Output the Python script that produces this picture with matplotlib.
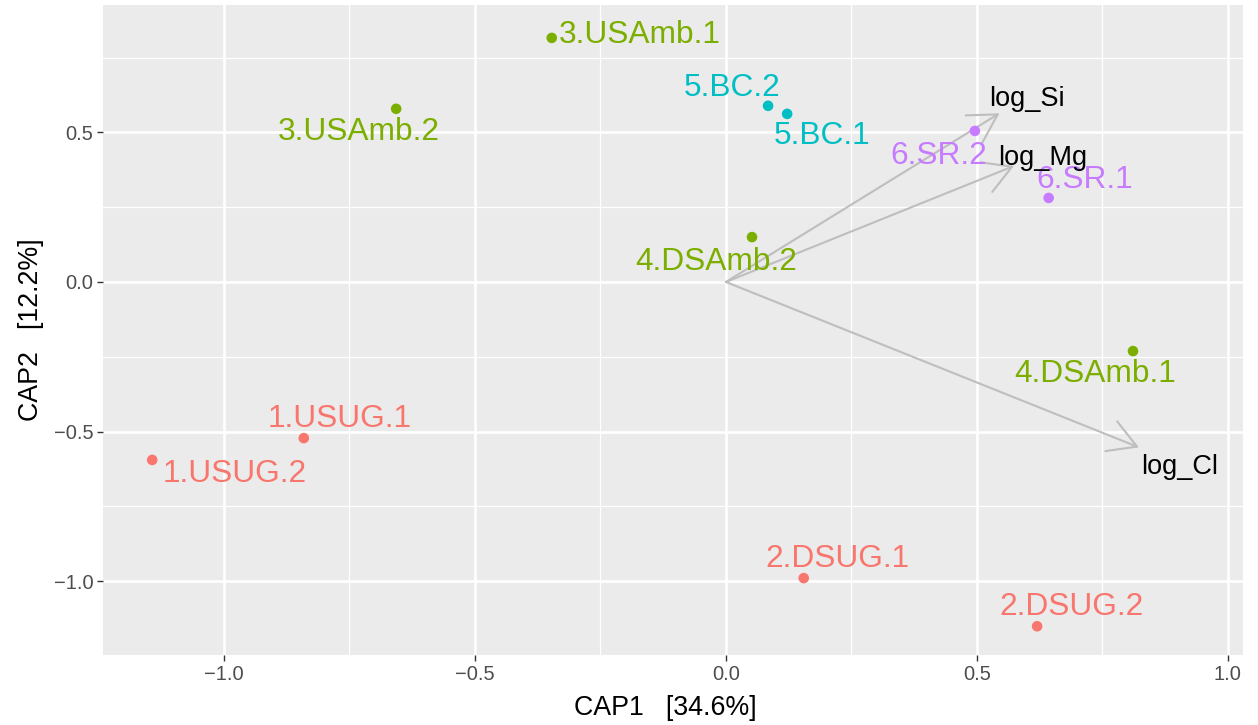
import numpy as np
import matplotlib
matplotlib.use("Agg")
import matplotlib.pyplot as plt
from matplotlib.patches import FancyArrowPatch

plt.rcParams['font.family'] = ['Liberation Sans', 'DejaVu Sans']

# CAP ordination scores per sample
samples = ['3.USAmb.1', '3.USAmb.2', '5.BC.2', '5.BC.1', '6.SR.2', '6.SR.1',
           '4.DSAmb.2', '4.DSAmb.1', '1.USUG.1', '1.USUG.2', '2.DSUG.1', '2.DSUG.2']
cap1 = [-0.347, -0.657, 0.084, 0.122, 0.496, 0.643,
        0.052, 0.811, -0.841, -1.143, 0.155, 0.620]
cap2 = [0.816, 0.579, 0.589, 0.562, 0.505, 0.281,
        0.150, -0.231, -0.522, -0.595, -0.990, -1.151]
groups = ['Amb', 'Amb', 'BC', 'BC', 'SR', 'SR',
          'Amb', 'Amb', 'UG', 'UG', 'UG', 'UG']

# repelled label anchors (text centres)
label_x = [-0.171, -0.731, 0.012, 0.191, 0.424, 0.715,
           -0.020, 0.735, -0.769, -0.978, 0.223, 0.689]
label_y = [0.826, 0.500, 0.648, 0.488, 0.420, 0.340,
           0.066, -0.308, -0.459, -0.643, -0.927, -1.088]

# environmental vectors
vectors = ['log_Si', 'log_Mg', 'log_Cl']
vec_x = [0.545, 0.574, 0.823]
vec_y = [0.564, 0.388, -0.553]
vec_label_x = [0.524, 0.542, 0.827]
vec_label_y = [0.612, 0.415, -0.620]

palette = {'UG': '#F8766D', 'Amb': '#7CAE00', 'BC': '#00BFC4', 'SR': '#C77CFF'}

fig = plt.figure(figsize=(12.58, 7.25), dpi=100)
ax = fig.add_axes([0.0819, 0.0966, 0.988 - 0.0819, 0.9931 - 0.0966])
ax.set_facecolor('#EBEBEB')

ax.set_xlim(-1.241, 1.030)
ax.set_ylim(-1.247, 0.926)
ax.set_xticks([-1.0, -0.5, 0.0, 0.5, 1.0])
ax.set_yticks([-1.0, -0.5, 0.0, 0.5])
ax.set_xticks([-0.75, -0.25, 0.25, 0.75], minor=True)
ax.set_yticks([-0.75, -0.25, 0.25, 0.75], minor=True)
ax.grid(which='major', color='white', lw=1.9)
ax.grid(which='minor', color='white', lw=0.9)
ax.set_axisbelow(True)
for s in ax.spines.values():
    s.set_visible(False)
ax.tick_params(which='major', length=4, width=1.0, color='#333333',
               labelcolor='#4D4D4D', labelsize=14.5, pad=3)
ax.tick_params(which='minor', length=0)
ax.set_xticklabels(['\u22121.0', '\u22120.5', '0.0', '0.5', '1.0'])
ax.set_yticklabels(['\u22121.0', '\u22120.5', '0.0', '0.5'])
ax.set_xlabel('CAP1   [34.6%]', fontsize=19.3)
ax.set_ylabel('CAP2   [12.2%]', fontsize=19.3, labelpad=7)
ax.xaxis.set_label_coords(0.493, -0.061)
ax.xaxis.label.set_va('top')

# arrows from the origin
for vx, vy in zip(vec_x, vec_y):
    arr = FancyArrowPatch((0, 0), (vx, vy),
                          arrowstyle='->,head_length=20,head_width=11.5',
                          mutation_scale=1, color='#BEBEBE', lw=1.5,
                          shrinkA=0, shrinkB=0, zorder=2)
    ax.add_patch(arr)

colors = [palette[g] for g in groups]
ax.scatter(cap1, cap2, s=58, c=colors, lw=0, zorder=3)

for name, lx, ly, c in zip(samples, label_x, label_y, colors):
    ax.text(lx, ly, name, color=c, fontsize=22.8, ha='center', va='center', zorder=4)

for name, lx, ly in zip(vectors, vec_label_x, vec_label_y):
    ax.text(lx, ly, name, color='black', fontsize=19.5, ha='left', va='center', zorder=4)

fig.savefig('out.png', dpi=100)
